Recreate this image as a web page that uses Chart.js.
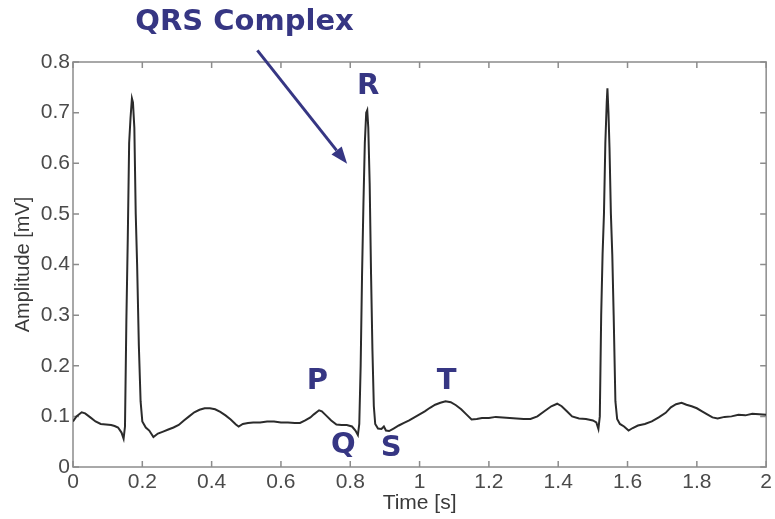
<!DOCTYPE html>
<html><head><meta charset="utf-8">
<script src="https://cdn.jsdelivr.net/npm/chart.js@4.4.0/dist/chart.umd.min.js"></script>
<style>html,body{margin:0;padding:0;background:#fff;} canvas{display:block;}</style>
</head><body>
<canvas id="c" width="775" height="519"></canvas>
<script>
// ---- data ----
const times = [
0.000,0.010,0.025,0.035,0.050,0.065,0.080,0.095,0.110,0.120,0.130,0.140,0.146,0.150,0.154,0.158,0.162,0.166,0.170,0.173,0.177,0.181,0.185,0.190,0.195,0.200,0.210,0.220,0.232,0.245,0.260,0.275,0.290,0.305,0.320,0.335,0.350,0.365,0.380,0.395,0.410,0.425,0.440,0.455,0.470,0.478,0.490,0.505,0.520,0.540,0.560,0.580,0.600,0.620,0.640,0.655,0.670,0.685,0.695,0.710,0.718,0.730,0.745,0.760,0.775,0.790,0.805,0.815,0.822,0.826,0.830,0.834,0.838,0.842,0.846,0.849,0.852,0.856,0.860,0.864,0.868,0.872,0.880,0.890,0.897,0.903,0.912,0.925,0.940,0.955,0.970,0.985,1.000,1.015,1.030,1.045,1.060,1.075,1.090,1.105,1.120,1.135,1.150,1.165,1.180,1.200,1.220,1.240,1.260,1.280,1.300,1.320,1.340,1.360,1.380,1.397,1.410,1.425,1.440,1.460,1.480,1.500,1.510,1.516,1.520,1.524,1.528,1.532,1.536,1.540,1.542,1.545,1.548,1.552,1.556,1.560,1.565,1.570,1.578,1.590,1.603,1.615,1.630,1.650,1.670,1.690,1.710,1.725,1.740,1.756,1.770,1.785,1.800,1.815,1.830,1.845,1.860,1.880,1.900,1.920,1.940,1.960,1.980,2.000];
const amplitudes = [
0.090,0.100,0.108,0.106,0.098,0.090,0.085,0.084,0.083,0.081,0.078,0.068,0.056,0.080,0.290,0.450,0.640,0.690,0.728,0.720,0.670,0.500,0.400,0.240,0.130,0.090,0.078,0.072,0.059,0.066,0.070,0.074,0.078,0.083,0.092,0.100,0.108,0.113,0.116,0.116,0.114,0.109,0.102,0.094,0.084,0.080,0.085,0.087,0.088,0.088,0.090,0.090,0.088,0.088,0.087,0.087,0.092,0.098,0.104,0.112,0.110,0.102,0.092,0.084,0.083,0.083,0.080,0.072,0.063,0.085,0.200,0.380,0.520,0.640,0.700,0.705,0.670,0.560,0.380,0.230,0.120,0.085,0.076,0.075,0.080,0.072,0.071,0.076,0.082,0.087,0.092,0.098,0.104,0.110,0.117,0.123,0.127,0.130,0.128,0.122,0.114,0.104,0.094,0.095,0.097,0.097,0.099,0.098,0.097,0.096,0.095,0.095,0.100,0.110,0.120,0.125,0.120,0.110,0.100,0.096,0.095,0.092,0.088,0.075,0.100,0.300,0.420,0.500,0.640,0.720,0.748,0.700,0.630,0.500,0.420,0.300,0.130,0.095,0.085,0.080,0.072,0.077,0.082,0.085,0.090,0.098,0.107,0.118,0.124,0.127,0.123,0.120,0.116,0.110,0.104,0.098,0.096,0.099,0.100,0.103,0.102,0.105,0.104,0.103];
const xTickValues = [0,0.2,0.4,0.6,0.8,1,1.2,1.4,1.6,1.8,2];
const xTickLabels = ['0','0.2','0.4','0.6','0.8','1','1.2','1.4','1.6','1.8','2'];
const yTickValues = [0,0.1,0.2,0.3,0.4,0.5,0.6,0.7,0.8];
const yTickLabels = ['0','0.1','0.2','0.3','0.4','0.5','0.6','0.7','0.8'];
const xTitle = 'Time [s]';
const yTitle = 'Amplitude [mV]';
const waveLabels = ['P','Q','R','S','T'];
const waveLabelTimes = [0.705,0.780,0.852,0.918,1.078];
const waveLabelAmps = [0.168,0.042,0.751,0.036,0.168];
const calloutText = 'QRS Complex';
const calloutTextAt = [0.495,0.879];
const calloutArrowFrom = [0.532,0.823];
const calloutArrowTo = [0.791,0.599];

const points = times.map((t,i)=>({x:t,y:amplitudes[i]}));
const labelFor = (vals, labs) => v => { const i = vals.findIndex(t=>Math.abs(t-v)<1e-6); return i>=0?labs[i]:''; };
const ANN = '#363683';

const framePlugin = {
  id:'frame',
  beforeDatasetsDraw(chart){
    const {ctx, chartArea:a, scales:{x,y}} = chart;
    ctx.save();
    ctx.strokeStyle='#8c8c8c'; ctx.lineWidth=1.5;
    ctx.strokeRect(a.left, a.top, a.right-a.left, a.bottom-a.top);
    const tl=6;
    ctx.beginPath();
    xTickValues.forEach(v=>{const p=x.getPixelForValue(v); ctx.moveTo(p,a.bottom); ctx.lineTo(p,a.bottom-tl); ctx.moveTo(p,a.top); ctx.lineTo(p,a.top+tl);});
    yTickValues.forEach(v=>{const p=y.getPixelForValue(v); ctx.moveTo(a.left,p); ctx.lineTo(a.left+tl,p); ctx.moveTo(a.right,p); ctx.lineTo(a.right-tl,p);});
    ctx.stroke();
    ctx.restore();
  },
  afterDatasetsDraw(chart){
    const {ctx, scales:{x,y}} = chart;
    ctx.save();
    ctx.fillStyle=ANN; ctx.strokeStyle=ANN;
    ctx.textAlign='center'; ctx.textBaseline='middle';
    ctx.font='bold 29px "DejaVu Sans"';
    waveLabels.forEach((l,i)=>ctx.fillText(l, x.getPixelForValue(waveLabelTimes[i]), y.getPixelForValue(waveLabelAmps[i])));
    ctx.fillText(calloutText, x.getPixelForValue(calloutTextAt[0]), y.getPixelForValue(calloutTextAt[1]));
    const x0=x.getPixelForValue(calloutArrowFrom[0]), y0=y.getPixelForValue(calloutArrowFrom[1]);
    const x1=x.getPixelForValue(calloutArrowTo[0]), y1=y.getPixelForValue(calloutArrowTo[1]);
    const ang=Math.atan2(y1-y0,x1-x0), hl=17, hw=6.5;
    const bx=x1-hl*Math.cos(ang), by=y1-hl*Math.sin(ang);
    ctx.lineWidth=3;
    ctx.beginPath(); ctx.moveTo(x0,y0); ctx.lineTo(bx,by); ctx.stroke();
    ctx.beginPath(); ctx.moveTo(x1,y1);
    ctx.lineTo(bx+hw*Math.sin(ang), by-hw*Math.cos(ang));
    ctx.lineTo(bx-hw*Math.sin(ang), by+hw*Math.cos(ang));
    ctx.closePath(); ctx.fill();
    ctx.restore();
  }
};

new Chart(document.getElementById('c'), {
  type:'line',
  data:{datasets:[{data:points, borderColor:'#2b2b2b', borderWidth:2, pointRadius:0, tension:0, fill:false}]},
  options:{
    responsive:false, animation:false, events:[],
    layout:{padding:{left:0,top:62,right:7,bottom:0}},
    plugins:{legend:{display:false}, tooltip:{enabled:false}},
    scales:{
      x:{type:'linear', min:0, max:2,
        afterBuildTicks:s=>{s.ticks=xTickValues.map(v=>({value:v}));},
        afterFit:s=>{s.height=52;},
        grid:{display:false, drawTicks:false}, border:{display:false},
        ticks:{callback:labelFor(xTickValues,xTickLabels), maxRotation:0, autoSkip:false, padding:3, color:'#4a4a4a', font:{family:'"Liberation Sans"', size:21}},
        title:{display:true, text:xTitle, color:'#3a3a3a', font:{family:'"Liberation Sans"', size:21}, padding:{top:0,bottom:3}}
      },
      y:{type:'linear', min:0, max:0.8,
        afterBuildTicks:s=>{s.ticks=yTickValues.map(v=>({value:v}));},
        afterFit:s=>{s.width=73;},
        grid:{display:false, drawTicks:false}, border:{display:false},
        ticks:{callback:labelFor(yTickValues,yTickLabels), autoSkip:false, padding:3, color:'#4a4a4a', font:{family:'"Liberation Sans"', size:21}},
        title:{display:true, text:yTitle, color:'#3a3a3a', font:{family:'"Liberation Sans"', size:20}, padding:{top:11,bottom:0}}
      }
    }
  },
  plugins:[framePlugin]
});
</script>
</body></html>
